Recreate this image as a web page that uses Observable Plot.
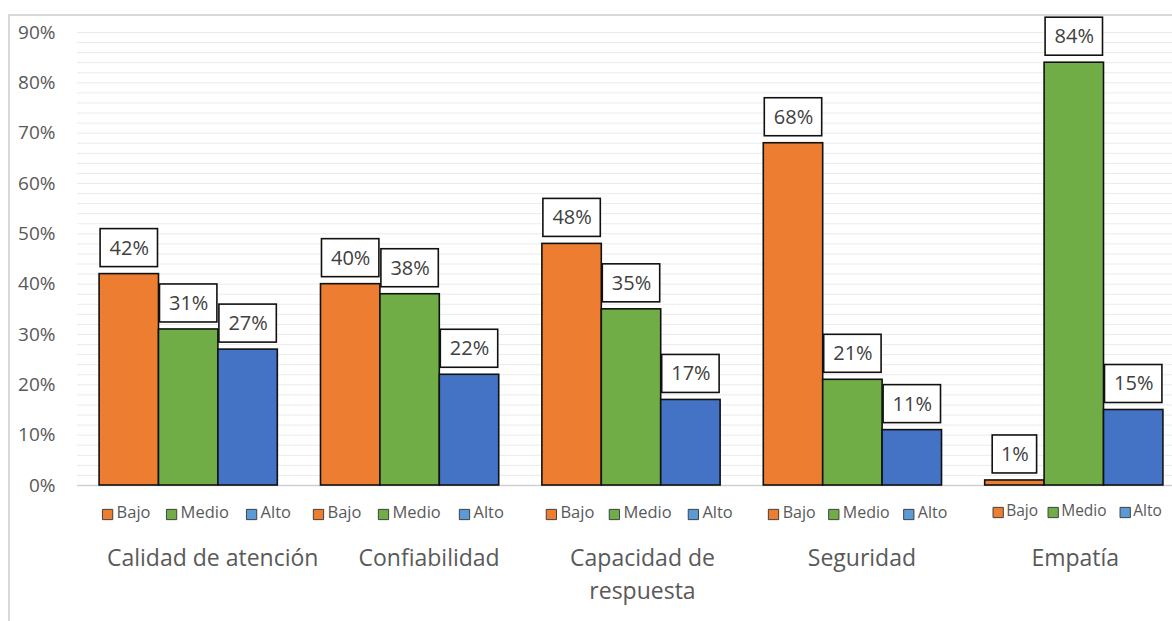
<!DOCTYPE html>
<html>
<head>
<meta charset="utf-8">
<script src="https://cdn.jsdelivr.net/npm/d3@7"></script>
<script src="https://cdn.jsdelivr.net/npm/@observablehq/plot@0.6"></script>
<style>
  html, body { margin: 0; padding: 0; background: #fff; }
  #wrap { position: relative; width: 1172px; height: 621px; overflow: hidden; }
  #border { position: absolute; left: 8px; top: 14px; width: 1300px; height: 700px;
            border-left: 2px solid #d9d9d9; border-top: 2px solid #d9d9d9; pointer-events: none; }
  #chart { position: absolute; left: 0; top: 0; }
</style>
</head>
<body>
<div id="wrap"><div id="chart"></div><div id="border"></div></div>
<script>
// ---- data ----
const groups = ["Calidad de atención", "Confiabilidad", "Capacidad de respuesta", "Seguridad", "Empatía"];
const groupLabels = ["Calidad de atención", "Confiabilidad", "Capacidad de\nrespuesta", "Seguridad", "Empatía"];
const levels = ["Bajo", "Medio", "Alto"];
const bajo  = [0.42, 0.40, 0.48, 0.68, 0.01];
const medio = [0.31, 0.38, 0.35, 0.21, 0.84];
const alto  = [0.27, 0.22, 0.17, 0.11, 0.15];
const yTicks = [0, 0.1, 0.2, 0.3, 0.4, 0.5, 0.6, 0.7, 0.8, 0.9];

// ---- styles / layout ----
const barColors = {Bajo: "#ED7D31", Medio: "#70AD47", Alto: "#4472C4"};
const legendColors = {Bajo: "#ED7D31", Medio: "#70AD47", Alto: "#5B9BD5"};
const FONT = "'Open Sans', 'Noto Sans', sans-serif";
const xRange = [77.5, 1184.5];
const padInner = 0.195, padOuter = 0.0975;
const bw = d3.scaleBand().domain(groups).range(xRange).paddingInner(padInner).paddingOuter(padOuter).bandwidth();
const sub = bw / 3;
// legend key layout per group: square centres & text starts (px from band start), font size, dy
const legendLayout = [
  {sq: [8, 72, 152],       tx: [17, 81, 161],       size: 16.5, dy: 29},
  {sq: [-2.5, 62.5, 143.5], tx: [6.5, 71.5, 152.5], size: 16.5, dy: 29},
  {sq: [9, 72, 151],       tx: [18, 81, 160],       size: 16.5, dy: 29},
  {sq: [9.7, 70, 145],     tx: [19, 79, 154],       size: 16,   dy: 29},
  {sq: [13, 68, 140],      tx: [21, 76, 148],       size: 15.5, dy: 27}
];
const labelShift = [24, 19, 11, 9, 1];

const series = [bajo, medio, alto];
const table = [];
groups.forEach((g, i) => levels.forEach((l, k) => table.push({group: g, level: l, k, value: series[k][i]})));
const grid = d3.range(0, 46).map(i => i * 0.02);

const marks = [];
marks.push(Plot.ruleY(grid, {stroke: "#ebebeb", strokeWidth: 1}));
marks.push(Plot.ruleY([0], {stroke: "#d0d0d0", strokeWidth: 1.5}));

levels.forEach((l, k) => {
  const rows = table.filter(d => d.level === l);
  marks.push(Plot.barY(rows, {
    x: "group", y: "value", fill: barColors[l], stroke: "#111", strokeWidth: 1.6,
    insetLeft: k * sub, insetRight: (2 - k) * sub
  }));
  // label boxes
  const wide = rows.filter(d => d.value >= 0.1), narrow = rows.filter(d => d.value < 0.1);
  [[wide, 1], [narrow, 7.5]].forEach(([rs, pad]) => {
    marks.push(Plot.barY(rs, {
      x: "group", y1: "value", y2: "value", fill: "white", stroke: "#111", strokeWidth: 1.6,
      insetTop: -45, insetBottom: 7,
      insetLeft: k * sub + pad, insetRight: (2 - k) * sub + pad
    }));
  });
  marks.push(Plot.text(rows, {
    x: "group", y: "value", text: d => Math.round(d.value * 100) + "%",
    dx: (k - 1) * sub, dy: -26, fontSize: 20, fill: "#404040", fontFamily: FONT
  }));
});

// legend keys under each group
groups.forEach((g, i) => {
  const L = legendLayout[i];
  levels.forEach((l, k) => {
    marks.push(Plot.dot([g], {
      x: d => d, frameAnchor: "bottom", dy: L.dy, dx: L.sq[k] - bw / 2,
      symbol: "square", r: 5.8, fill: legendColors[l], stroke: "#404040", strokeWidth: 1
    }));
    marks.push(Plot.text([g], {
      x: d => d, frameAnchor: "bottom", dy: L.dy + 3, dx: L.tx[k] - bw / 2,
      text: () => l, textAnchor: "start", fontSize: L.size, fill: "#595959", fontFamily: FONT
    }));
  });
  marks.push(Plot.text([g], {
    x: d => d, frameAnchor: "bottom", dy: 57, dx: labelShift[i],
    text: () => groupLabels[i], lineAnchor: "top", lineHeight: 1.43,
    fontSize: 23, fill: "#595959", fontFamily: FONT
  }));
});

const chart = Plot.plot({
  width: 1172, height: 621,
  marginLeft: 77, marginRight: 0, marginTop: 32, marginBottom: 136,
  style: {fontFamily: FONT, fontSize: "19px", color: "#595959", background: "transparent"},
  x: {domain: groups, range: xRange, paddingInner: padInner, paddingOuter: padOuter, axis: null, round: false},
  y: {domain: [0, 0.9], ticks: yTicks, tickFormat: d3.format(".0%"), tickSize: 0, tickPadding: 22, label: null},
  marks
});
document.getElementById("chart").appendChild(chart);
</script>
</body>
</html>
